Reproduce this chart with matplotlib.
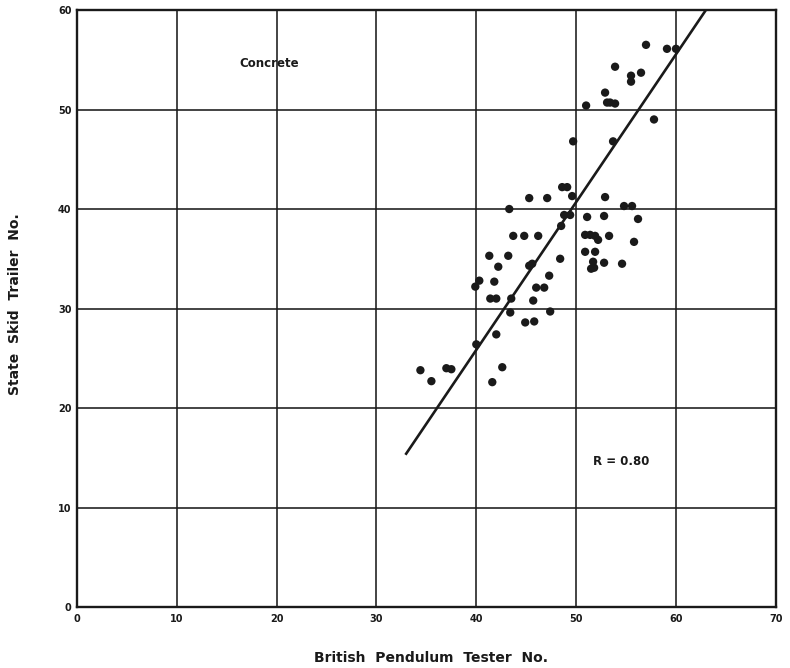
import matplotlib
matplotlib.use("Agg")
import matplotlib.pyplot as plt

# Skid resistance measurements on concrete pavements
pendulum = [
    41.3, 43.2, 42.2, 45.3, 45.6, 48.4, 50.9, 47.3, 40.3, 39.9,
    41.8, 46.0, 46.8, 41.4, 42.0, 43.5, 45.7, 43.4, 47.4, 44.9,
    45.8, 42.0, 40.0, 34.4, 35.5, 37.0, 37.5, 42.6, 41.6,
    48.6, 49.1, 45.3, 47.1, 49.6, 52.9, 43.3, 54.8, 55.6, 48.8,
    49.4, 51.1, 52.8, 56.2, 48.5, 43.7, 44.8, 46.2, 50.9, 51.4,
    51.9, 52.2, 53.3, 55.8, 51.9, 51.7, 51.5, 51.8, 52.8, 54.6,
    57.0, 59.1, 60.0, 53.9, 55.5, 55.5, 56.5, 52.9, 53.1, 53.4,
    53.9, 51.0, 57.8, 49.7, 53.7,
]
trailer = [
    35.3, 35.3, 34.2, 34.3, 34.5, 35.0, 35.7, 33.3, 32.8, 32.2,
    32.7, 32.1, 32.1, 31.0, 31.0, 31.0, 30.8, 29.6, 29.7, 28.6,
    28.7, 27.4, 26.4, 23.8, 22.7, 24.0, 23.9, 24.1, 22.6,
    42.2, 42.2, 41.1, 41.1, 41.3, 41.2, 40.0, 40.3, 40.3, 39.4,
    39.4, 39.2, 39.3, 39.0, 38.3, 37.3, 37.3, 37.3, 37.4, 37.4,
    37.3, 36.9, 37.3, 36.7, 35.7, 34.7, 34.0, 34.1, 34.6, 34.5,
    56.5, 56.1, 56.1, 54.3, 53.4, 52.8, 53.7, 51.7, 50.7, 50.7,
    50.6, 50.4, 49.0, 46.8, 46.8,
]

# Fitted regression line end points
fit_x = [32.9, 63.0]
fit_y = [15.3, 60.0]

x_ticks = [0, 10, 20, 30, 40, 50, 60, 70]
y_ticks = [0, 10, 20, 30, 40, 50, 60]

ink = "#1a1a1a"

fig = plt.figure(figsize=(7.9, 6.68), dpi=100)
ax = fig.add_axes([0.0975, 0.0913, 0.8845, 0.8937])

ax.set_xlim(0, 70)
ax.set_ylim(0, 60)
ax.set_xticks(x_ticks)
ax.set_yticks(y_ticks)
ax.set_xticklabels([str(t) for t in x_ticks])
ax.set_yticklabels([str(t) for t in y_ticks])
ax.tick_params(length=0, labelsize=7, colors=ink)
ax.tick_params(axis="x", pad=5)
ax.tick_params(axis="y", pad=4)
for lbl in ax.get_xticklabels() + ax.get_yticklabels():
    lbl.set_fontweight("bold")

ax.grid(True, color=ink, linewidth=1.15)
ax.set_axisbelow(True)
for sp in ax.spines.values():
    sp.set_linewidth(1.7)
    sp.set_color(ink)

ax.scatter(pendulum, trailer, s=36, color=ink, edgecolors="none", zorder=3)
ax.plot(fit_x, fit_y, color=ink, linewidth=1.9, solid_capstyle="butt",
        zorder=3, clip_on=False)

ax.text(19.3, 54.6, "Concrete", fontsize=8.5, fontweight="bold",
        color=ink, ha="center", va="center")
ax.text(54.5, 14.6, "R = 0.80", fontsize=8.5, fontweight="bold",
        color=ink, ha="center", va="center")

fig.text(0.545, 0.015, "British  Pendulum  Tester  No.", fontsize=10,
         fontweight="bold", color=ink, ha="center", va="center")
fig.text(0.019, 0.545, "State  Skid  Trailer  No.", fontsize=10,
         fontweight="bold", color=ink, ha="center", va="center",
         rotation=90)

fig.savefig("out.png", dpi=100, facecolor="white")
